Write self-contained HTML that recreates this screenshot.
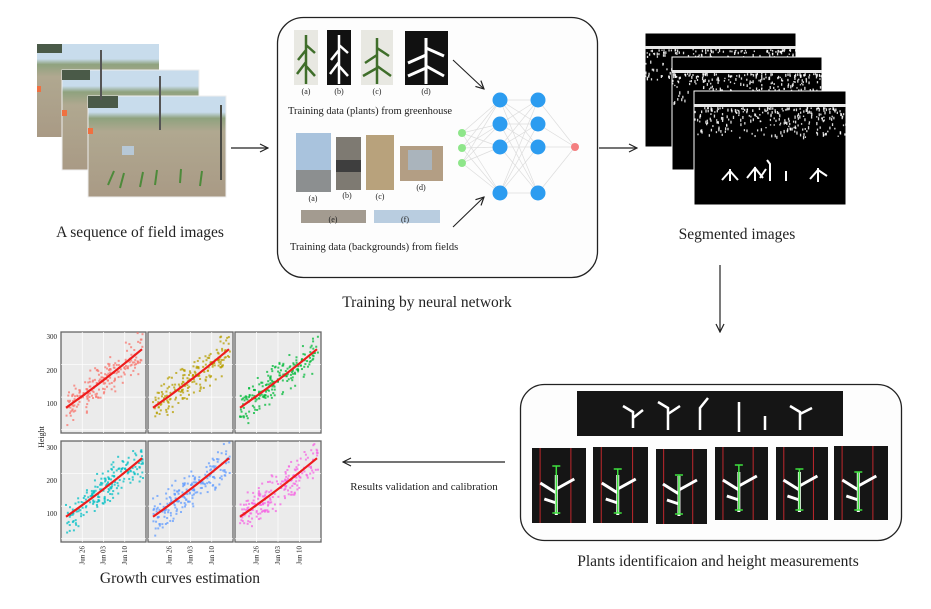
<!DOCTYPE html>
<html><head><meta charset="utf-8"><style>
body{margin:0;background:#fff;}
svg{display:block;font-family:"Liberation Serif",serif;}
</style></head><body>
<svg id="s" width="931" height="609" viewBox="0 0 931 609" xmlns="http://www.w3.org/2000/svg">
<defs>
<marker id="ar" markerWidth="10" markerHeight="10" refX="9" refY="5" orient="auto" markerUnits="userSpaceOnUse">
<path d="M1,1 L9,5 L1,9" fill="none" stroke="#222" stroke-width="1.2"/></marker>
<linearGradient id="field" x1="0" y1="0" x2="0" y2="1">
<stop offset="0" stop-color="#c8dcec"/><stop offset="0.16" stop-color="#c8dcec"/><stop offset="0.22" stop-color="#8fa27e"/><stop offset="0.35" stop-color="#b0a890"/><stop offset="1" stop-color="#a99a85"/></linearGradient>
</defs>
<rect width="931" height="609" fill="#fff"/>
<g id="fld">
<rect x="37" y="44" width="122" height="93" fill="url(#field)"/>
<rect x="62" y="70" width="137" height="100" fill="url(#field)" stroke="#eee"/>
<rect x="88" y="96" width="138" height="101" fill="url(#field)" stroke="#eee"/>
<rect x="37" y="44" width="25" height="9" fill="#4a5a48"/>
<rect x="62" y="70" width="28" height="10" fill="#4a5a48"/>
<rect x="88" y="96" width="30" height="12" fill="#4a5a48"/>
<line x1="101" y1="50" x2="101" y2="100" stroke="#555" stroke-width="2"/>
<line x1="160" y1="76" x2="160" y2="130" stroke="#555" stroke-width="2"/>
<line x1="221" y1="105" x2="221" y2="180" stroke="#4a4a44" stroke-width="2"/>
<rect x="122" y="146" width="12" height="9" fill="#b7c8d6"/>
<rect x="88" y="128" width="5" height="6" fill="#f07040"/><rect x="62" y="110" width="5" height="6" fill="#f07040"/><rect x="37" y="86" width="4" height="6" fill="#f07040"/>
<g stroke="#4d8a3a" stroke-width="2"><path d="M108,185 l6,-14 M120,188 l4,-15 M140,187 l3,-15 M155,185 l2,-15 M180,183 l1,-14 M200,186 l2,-15"/></g>
</g>
<text x="140" y="237" font-size="15.5" text-anchor="middle" fill="#222">A sequence of field images</text>
<line x1="231" y1="148" x2="268" y2="148" stroke="#222" stroke-width="1.2" marker-end="url(#ar)"/>

<rect x="277.5" y="17.5" width="320" height="260" rx="26" fill="#fdfdfd" stroke="#222" stroke-width="1.3"/>
<rect x="294" y="30" width="24" height="55" fill="#e8e8e2"/>
<path d="M306,84 L306,35 M306,50 l-8,10 M306,45 l9,8 M306,62 l-9,12 M306,66 l9,10" stroke="#3f6e2a" stroke-width="2.5" fill="none"/>
<rect x="327" y="30" width="24" height="55" fill="#111"/>
<path d="M339,84 L339,35 M339,50 l-8,10 M339,45 l9,8 M339,62 l-9,12 M339,66 l9,10" stroke="#fff" stroke-width="2.5" fill="none"/>
<rect x="361" y="30" width="32" height="55" fill="#e8e8e2"/>
<path d="M377,84 L377,38 M377,55 l-12,8 M377,48 l12,8 M377,68 l-14,8 M377,66 l14,10" stroke="#3f6e2a" stroke-width="2.5" fill="none"/>
<rect x="405" y="31" width="43" height="54" fill="#111"/>
<path d="M426,84 L426,38 M426,55 l-18,8 M426,48 l18,8 M426,68 l-18,8 M426,66 l18,10" stroke="#fff" stroke-width="3" fill="none"/>
<g font-size="8" text-anchor="middle" fill="#222"><text x="306" y="94">(a)</text><text x="339" y="94">(b)</text><text x="377" y="94">(c)</text><text x="426" y="94">(d)</text></g>
<text x="288" y="114" font-size="10.5" fill="#222">Training data (plants) from greenhouse</text>
<rect x="296" y="133" width="35" height="59" fill="#a9c3dd"/><rect x="296" y="170" width="35" height="22" fill="#8c8f90"/>
<rect x="336" y="137" width="25" height="53" fill="#7e7a72"/><rect x="336" y="160" width="25" height="12" fill="#3e3e3e"/>
<rect x="366" y="135" width="28" height="55" fill="#b8a27c"/>
<rect x="400" y="146" width="43" height="35" fill="#b39e84"/><rect x="408" y="150" width="24" height="20" fill="#aab4bc"/>
<g font-size="8" text-anchor="middle" fill="#222"><text x="313" y="201">(a)</text><text x="347" y="198">(b)</text><text x="380" y="199">(c)</text><text x="421" y="190">(d)</text></g>
<rect x="301" y="210" width="65" height="13" fill="#a39b90"/><rect x="374" y="210" width="66" height="13" fill="#b9cde0"/>
<g font-size="8" text-anchor="middle" fill="#222"><text x="333" y="222">(e)</text><text x="405" y="222">(f)</text></g>
<text x="290" y="250" font-size="10.5" fill="#222">Training data (backgrounds) from fields</text>
<line x1="453" y1="60" x2="484" y2="89" stroke="#222" stroke-width="1.1" marker-end="url(#ar)"/>
<line x1="453" y1="227" x2="484" y2="197" stroke="#222" stroke-width="1.1" marker-end="url(#ar)"/>
<g id="nn" stroke="#ddd" stroke-width="0.7"></g>
<text x="427" y="307" font-size="15.5" text-anchor="middle" fill="#222">Training by neural network</text>

<line x1="599" y1="148" x2="637" y2="148" stroke="#222" stroke-width="1.2" marker-end="url(#ar)"/>
<g id="seg">
<rect x="645" y="33" width="151" height="114" fill="#000"/>
<rect x="672" y="57" width="150" height="113" fill="#000" stroke="#fff"/>
<rect x="694" y="91" width="152" height="114" fill="#000" stroke="#fff"/>
</g>
<text x="737" y="239" font-size="15.5" text-anchor="middle" fill="#222">Segmented images</text>
<line x1="720" y1="265" x2="720" y2="332" stroke="#222" stroke-width="1.2" marker-end="url(#ar)"/>

<rect x="520.5" y="384.5" width="381" height="156" rx="24" fill="#fdfdfd" stroke="#222" stroke-width="1.3"/>
<rect x="577" y="391" width="266" height="45" fill="#151515"/>
<g stroke="#fff" stroke-width="2.5" fill="none"><path d="M633,428 v-16 l-10,-6 M633,418 l10,-8 M668,430 v-22 l-10,-6 M668,414 l12,-8 M700,430 v-22 l8,-10 M739,432 v-30 M765,430 v-14 M800,430 v-18 l-10,-6 M800,414 l12,-6"/></g>
<g id="crops"></g>
<text x="718" y="566" font-size="15.5" text-anchor="middle" fill="#222">Plants identificaion and height measurements</text>
<line x1="505" y1="462" x2="343" y2="462" stroke="#222" stroke-width="1.2" marker-end="url(#ar)"/>
<text x="424" y="490" font-size="11" text-anchor="middle" fill="#222">Results validation and calibration</text>

<g id="plots"></g>
<text x="180" y="583" font-size="15.5" text-anchor="middle" fill="#222">Growth curves estimation</text>
</svg>
<script>
var NS="http://www.w3.org/2000/svg";
function el(p,t,a){var e=document.createElementNS(NS,t);for(var k in a)e.setAttribute(k,a[k]);p.appendChild(e);return e;}
var seed=7;function rnd(){seed=(seed*16807)%2147483647;return seed/2147483647;}
var nn=document.getElementById('nn');
var L0=[[462,133],[462,148],[462,163]],L1=[[500,100],[500,124],[500,147],[500,193]],L2=[[538,100],[538,124],[538,147],[538,193]],L3=[[575,147]];
function conn(A,B){A.forEach(a=>B.forEach(b=>el(nn,'line',{x1:a[0],y1:a[1],x2:b[0],y2:b[1]})));}
conn(L0,L1);conn(L1,L2);conn(L2,L3);
L0.forEach(p=>el(nn,'circle',{cx:p[0],cy:p[1],r:4,fill:'#8ee68a',stroke:'none'}));
L1.concat(L2).forEach(p=>el(nn,'circle',{cx:p[0],cy:p[1],r:7.5,fill:'#2c9cf0',stroke:'none'}));
el(nn,'circle',{cx:575,cy:147,r:4,fill:'#f47f80',stroke:'none'});
// segmented noise
var sg=document.getElementById('seg');
function segImg(x,y,w,h,clip,plants){
 el(sg,'rect',{x:x,y:y,width:w,height:h,fill:'#000',stroke:'#fff'});
 el(sg,'rect',{x:x,y:y+13,width:w,height:3,fill:'#e8e8e8'});
 var lim=clip?clip:w;
 for(var k=0;k<260;k++){var px=x+rnd()*lim,py=y+16+Math.pow(rnd(),1.6)*30;
  el(sg,'rect',{x:px,y:py,width:1.3,height:1.3+rnd()*2,fill:'#fff',opacity:0.85});}
 if(plants){var pp=el(sg,'path',{d:'M722,180 l8,-9 l8,9 M730,181 v-12 M747,178 l8,-10 l8,10 M755,181 v-14 M760,178 l6,-9 M770,181 v-17 l-3,-4 M786,181 v-10 M810,179 l8,-9 l9,6 M818,182 v-14',stroke:'#fff','stroke-width':2,fill:'none'});}
}
segImg(645,33,151,114,null,false);
segImg(672,57,150,113,null,false);
segImg(694,91,152,114,null,true);
var cr=document.getElementById('crops');
[[532,586,448,523],[593,648,447,523],[656,707,449,524],[715,768,447,520],[776,828,447,520],[834,888,446,520]].forEach(function(c,i){
 el(cr,'rect',{x:c[0],y:c[2],width:c[1]-c[0],height:c[3]-c[2],fill:'#151515'});
 var w=c[1]-c[0];
 el(cr,'line',{x1:c[0]+w*0.15,y1:c[2],x2:c[0]+w*0.15,y2:c[3],stroke:'#c0282d','stroke-width':1});
 el(cr,'line',{x1:c[0]+w*0.72,y1:c[2],x2:c[0]+w*0.72,y2:c[3],stroke:'#c0282d','stroke-width':1});
 var mx=c[0]+w*0.45;
 el(cr,'path',{d:'M'+mx+','+(c[3]-8)+' v-40 M'+mx+','+(c[3]-30)+' l-16,-10 M'+mx+','+(c[3]-34)+' l18,-10 M'+mx+','+(c[3]-20)+' l-12,-4',stroke:'#fff','stroke-width':3,fill:'none'});
 var t=c[2]+18+(i%3)*4,b=c[3]-10;
 el(cr,'path',{d:'M'+mx+','+t+' V'+b+' M'+(mx-4)+','+t+' h8 M'+(mx-4)+','+b+' h8',stroke:'#3ee03e','stroke-width':1.5,fill:'none'});
});
var pl=document.getElementById('plots');
var cols=[[61,146],[148,233],[235,321]],rows=[[332,433],[441,542]];
var colors=['#f8766d','#b79f00','#00ba38','#00bfc4','#619cff','#f564e3'];
for(var r=0;r<2;r++)for(var c=0;c<3;c++){
 var x0=cols[c][0],x1=cols[c][1],y0=rows[r][0],y1=rows[r][1];
 el(pl,'rect',{x:x0,y:y0,width:x1-x0,height:y1-y0,fill:'#ebebeb',stroke:'#666','stroke-width':1.3});
 for(var g=1;g<4;g++){el(pl,'line',{x1:x0,x2:x1,y1:y0+g*(y1-y0)/3.1,y2:y0+g*(y1-y0)/3.1,stroke:'#fff','stroke-width':0.7});
  el(pl,'line',{y1:y0,y2:y1,x1:x0+g*(x1-x0)/4,x2:x0+g*(x1-x0)/4,stroke:'#fff','stroke-width':0.7});}
 var col=colors[r*3+c];
 var ys=y0+(y1-y0)*0.75, ye=y0+(y1-y0)*0.17;
 for(var k=0;k<200;k++){var f=rnd();var x=x0+4+f*(x1-x0-8);var y=ys+(ye-ys)*f+(rnd()+rnd()-1)*22;
  el(pl,'rect',{x:x,y:y,width:2,height:2,fill:col,opacity:0.75});}
 el(pl,'path',{d:'M'+(x0+5)+','+ys+' Q'+((x0+x1)/2)+','+((ys+ye)/2+3)+' '+(x1-4)+','+ye,stroke:'#ee1c1c','stroke-width':2.2,fill:'none'});
}
[[336,'300'],[370,'200'],[403,'100'],[447,'300'],[480,'200'],[513,'100']].forEach(function(a){
 var t=el(pl,'text',{x:57,y:a[0]+3,'font-size':7,'text-anchor':'end',fill:'#222'});t.textContent=a[1];});
var ht=el(pl,'text',{x:44,y:437,'font-size':8,'text-anchor':'middle',transform:'rotate(-90 44 437)',fill:'#222'});ht.textContent='Height';
cols.forEach(function(c){var w=c[1]-c[0];[['Jun 26',0.25],['Jun 03',0.5],['Jun 10',0.75]].forEach(function(d){
 var x=c[0]+w*d[1]+2;var t=el(pl,'text',{x:x,y:546,'font-size':7,'text-anchor':'end',transform:'rotate(-90 '+x+' 546)',fill:'#222'});t.textContent=d[0];});});
</script>
</body></html>
